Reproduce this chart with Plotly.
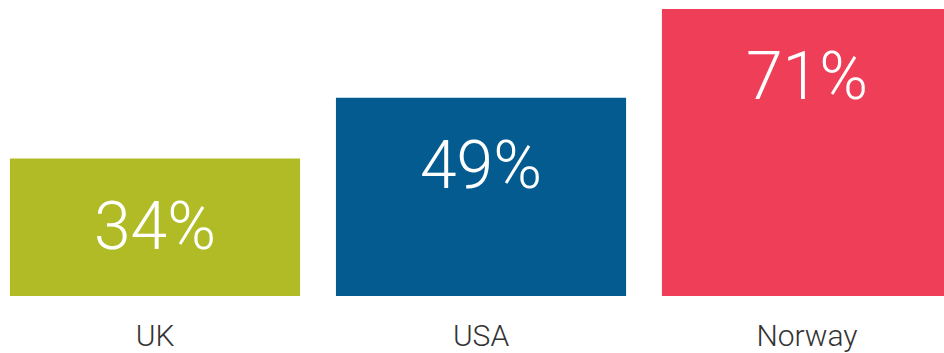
import plotly.graph_objects as go

# Share by country
countries = ["UK", "USA", "Norway"]
shares = [34, 49, 71]
colors = ["#B0BB25", "#035B8F", "#EE3E58"]

fig = go.Figure(
    go.Bar(
        x=countries,
        y=shares,
        width=0.89,
        marker=dict(color=colors, line=dict(width=0)),
        hoverinfo="skip",
    )
)

# Value labels placed just inside the top of each bar
for c, v in zip(countries, shares):
    fig.add_annotation(
        x=c, y=v, text=f"{v}%", showarrow=False,
        yanchor="top", yshift=-27,
        font=dict(family="Roboto", size=66, color="white", weight=300),
    )

fig.update_layout(
    width=944, height=353,
    margin=dict(l=0, r=0, t=0, b=57),
    paper_bgcolor="white", plot_bgcolor="white",
    showlegend=False,
    xaxis=dict(
        range=[-0.4755, 2.4202], showgrid=False, zeroline=False, showline=False,
        ticks="", ticklabelstandoff=19,
        tickfont=dict(family="Roboto", size=30, color="#333333", weight=300),
    ),
    yaxis=dict(range=[0, 73.2], visible=False, fixedrange=True),
)

fig.write_html("out.html")
